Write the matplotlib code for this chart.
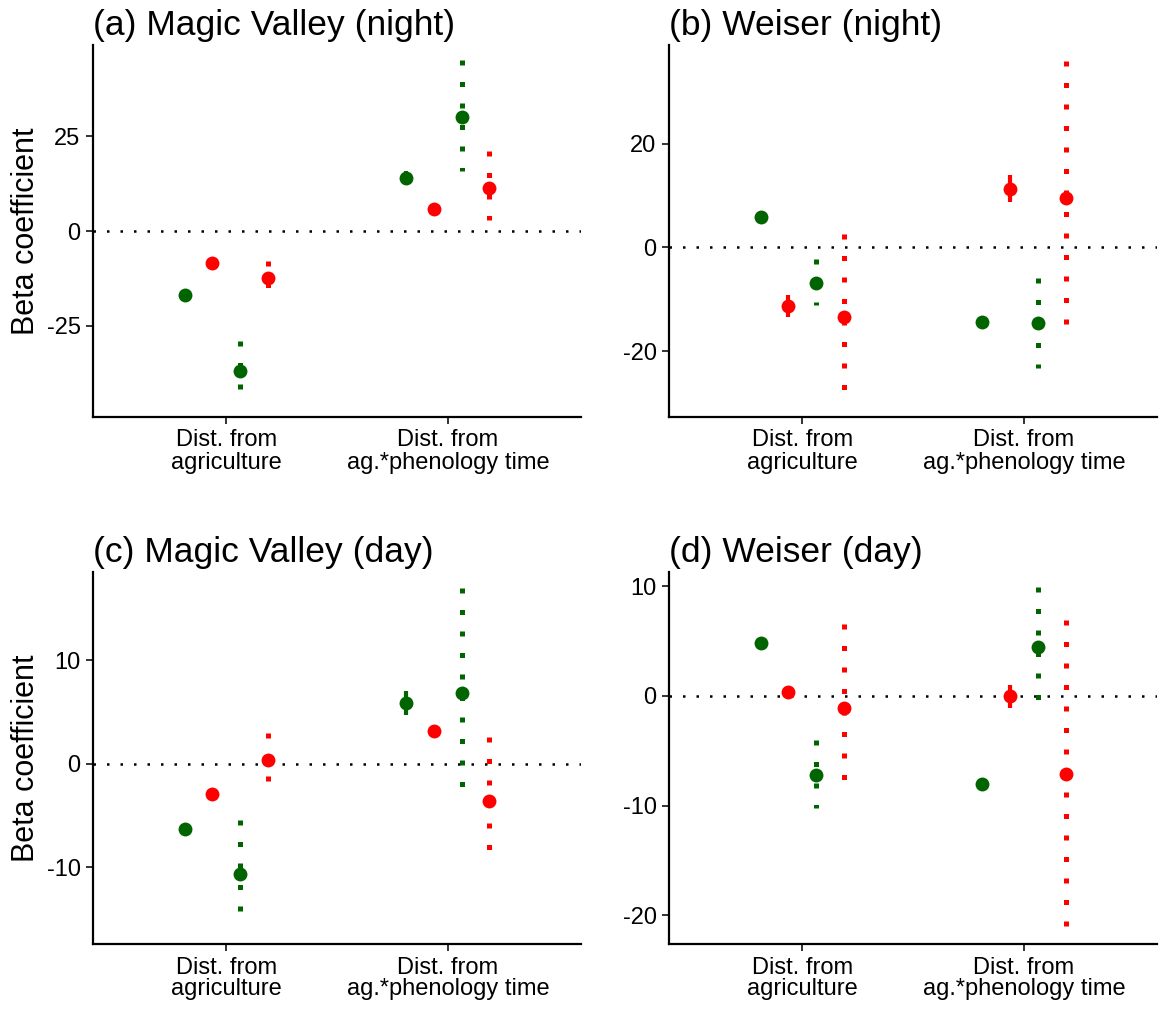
import numpy as np
import matplotlib.pyplot as plt

plt.rcParams['font.family'] = ['Liberation Sans', 'DejaVu Sans']
plt.rcParams['axes.unicode_minus'] = False

categories = ['Dist. from\nagriculture', 'Dist. from\nag.*phenology time']
titles = ['(a) Magic Valley (night)', '(b) Weiser (night)',
          '(c) Magic Valley (day)', '(d) Weiser (day)']
series_colors = ['#006400', '#FF0000', '#006400', '#FF0000']
series_dotted = [False, False, True, True]

# estimates per panel: rows = series (green, red, green dotted, red dotted), cols = categories
est_a = [[-16.9, 13.9], [-8.4, 5.8], [-36.8, 30.1], [-12.4, 11.3]]
lo_a = [[-17.9, 12.1], [-9.4, 4.8], [-42.0, 15.7], [-15.0, 2.9]]
hi_a = [[-15.9, 15.7], [-7.4, 6.8], [-29.0, 45.0], [-8.0, 21.0]]

est_b = [[5.8, -14.3], [-11.3, 11.3], [-6.8, -14.5], [-13.5, 9.5]]
lo_b = [[5.0, -15.1], [-13.4, 8.7], [-11.2, -23.2], [-27.5, -15.2]]
hi_b = [[6.6, -13.5], [-9.2, 14.0], [-2.2, -6.0], [2.6, 36.0]]

est_c = [[-6.3, 5.85], [-2.9, 3.2], [-10.6, 6.85], [0.4, -3.6]]
lo_c = [[-6.7, 4.7], [-3.3, 2.7], [-14.2, -2.4], [-1.7, -8.4]]
hi_c = [[-5.9, 7.0], [-2.5, 3.7], [-5.4, 17.0], [3.0, 2.6]]

est_d = [[4.8, -8.05], [0.36, 0.0], [-7.2, 4.5], [-1.1, -7.1]]
lo_d = [[4.4, -8.45], [-0.2, -1.1], [-10.2, -0.5], [-7.8, -21.2]]
hi_d = [[5.2, -7.65], [0.9, 1.0], [-4.0, 9.9], [6.6, 6.9]]

ylims = [(-49, 49), (-32.7, 39.0), (-17.4, 18.5), (-22.6, 11.3)]
yticks = [[-25, 0, 25], [-20, 0, 20], [-10, 0, 10], [-20, -10, 0, 10]]

panels = [(est_a, lo_a, hi_a), (est_b, lo_b, hi_b),
          (est_c, lo_c, hi_c), (est_d, lo_d, hi_d)]

W, H = 1162, 1009
fig = plt.figure(figsize=(W / 100, H / 100), dpi=100)

boxes = [(93, 45), (669, 45), (93, 572), (669, 572)]
aw, ah = 488, 372
offsets = [-0.1875, -0.0625, 0.0625, 0.1875]
xpos = np.arange(1, len(categories) + 1)

for i, (est, lo, hi) in enumerate(panels):
    left, top = boxes[i]
    ax = fig.add_axes([left / W, 1 - (top + ah) / H, aw / W, ah / H])
    ax.axhline(0, color='black', lw=1.8, ls=(0, (1, 4.4)), dash_capstyle='butt')
    for s in range(4):
        x = xpos + offsets[s]
        e = np.array(est[s])
        l = np.array(lo[s])
        h = np.array(hi[s])
        for j in range(len(x)):
            if series_dotted[s]:
                ax.plot([x[j], x[j]], [h[j], l[j]], color=series_colors[s],
                        lw=3.6, ls=(0, (1, 3.3)), dash_capstyle='butt',
                        solid_capstyle='butt')
            else:
                ax.plot([x[j], x[j]], [l[j], h[j]], color=series_colors[s],
                        lw=3.0, solid_capstyle='butt')
        ax.plot(x, e, 'o', color=series_colors[s], ms=10, mew=0)
    ax.set_xlim(0.4, 2.6)
    ax.set_ylim(*ylims[i])
    ax.set_yticks(yticks[i])
    ax.set_xticks(xpos)
    ax.set_xticklabels(categories, linespacing=1.0)
    for sp in ['top', 'right']:
        ax.spines[sp].set_visible(False)
    for sp in ['left', 'bottom']:
        ax.spines[sp].set_linewidth(1.6)
    ax.tick_params(labelsize=17, length=5, width=1.4, color='#333333', pad=4)
    ax.set_title(titles[i], loc='left', fontsize=25.5, pad=7)
    if i % 2 == 0:
        ax.set_ylabel('Beta coefficient', fontsize=22, labelpad=4)

fig.savefig('out.png', dpi=100)
